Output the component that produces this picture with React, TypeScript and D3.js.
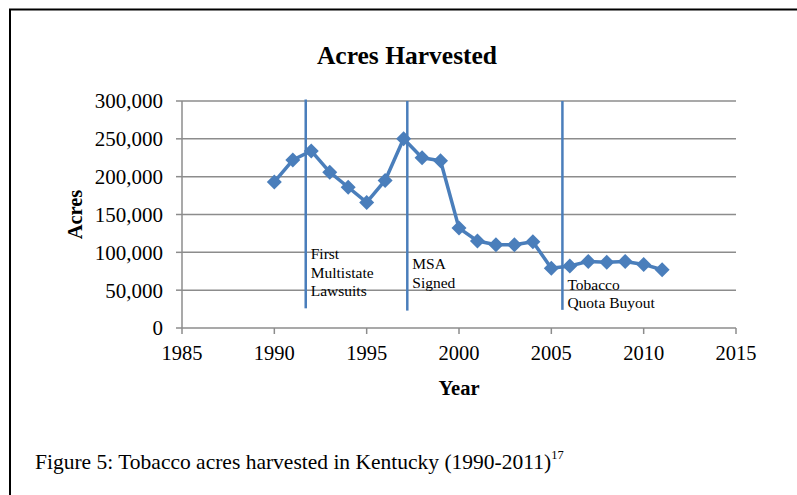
import React from "react";
import * as d3 from "d3";

const years = [1990, 1991, 1992, 1993, 1994, 1995, 1996, 1997, 1998, 1999, 2000, 2001, 2002, 2003, 2004, 2005, 2006, 2007, 2008, 2009, 2010, 2011];
const acres = [193000, 222000, 234000, 206000, 186000, 166000, 195000, 250000, 225000, 221000, 132000, 115000, 110000, 110000, 114000, 79000, 82000, 88000, 87000, 88000, 84000, 77000];
const yTicks = [0, 50000, 100000, 150000, 200000, 250000, 300000];
const xTicks = [1985, 1990, 1995, 2000, 2005, 2010, 2015];
const eventYears = [1991.7, 1997.2, 2005.6];
const eventTops = [302000, 300000, 300000];
const eventBottoms = [26000, 23000, 24000];
const eventLabels = [["First", "Multistate", "Lawsuits"], ["MSA", "Signed"], ["Tobacco", "Quota Buyout"]];
const eventLabelTop = [100000, 87000, 60000];

const W = 797;
const H = 495;
const FONT = "'Liberation Serif', 'Times New Roman', serif";
const BLUE = "#4a7ebb";
const GRID = "#8c8c8c";

export default function App() {
  const x = d3.scaleLinear().domain([1985, 2015]).range([182, 736]);
  const y = d3.scaleLinear().domain([0, 300000]).range([328, 101]);
  const fmt = d3.format(",");
  const line = d3
    .line<number>()
    .x((_, i) => x(years[i]))
    .y((d) => y(d));
  const r = 7.5;
  const diamond = `M0,${-r}L${r},0L0,${r}L${-r},0Z`;

  return (
    <svg
      width={W}
      height={H}
      style={{ position: "absolute", left: 0, top: 0, background: "#fff" }}
      fontFamily={FONT}
    >
      <rect x={0} y={0} width={W} height={H} fill="#fff" />
      <rect x={10} y={9.5} width={W + 10} height={H + 10} fill="none" stroke="#000" strokeWidth={2} />
      <text x={407} y={64} textAnchor="middle" fontSize={25.5} fontWeight="bold">
        Acres Harvested
      </text>
      {yTicks.map((t) => (
        <g key={t}>
          {t > 0 && <line x1={182} x2={736} y1={y(t)} y2={y(t)} stroke={GRID} strokeWidth={1.5} />}
          <line x1={176} x2={182} y1={y(t)} y2={y(t)} stroke={GRID} strokeWidth={1.5} />
          <text x={163} y={y(t)} dy="0.35em" textAnchor="end" fontSize={21}>
            {fmt(t)}
          </text>
        </g>
      ))}
      <line x1={182} x2={182} y1={y(300000)} y2={y(0)} stroke={GRID} strokeWidth={1.5} />
      <line x1={182} x2={736} y1={y(0)} y2={y(0)} stroke={GRID} strokeWidth={1.5} />
      {xTicks.map((t) => (
        <g key={t}>
          <line x1={x(t)} x2={x(t)} y1={y(0)} y2={y(0) + 6} stroke={GRID} strokeWidth={1.5} />
          <text x={x(t)} y={360} textAnchor="middle" fontSize={20.5}>
            {t}
          </text>
        </g>
      ))}
      <text x={459} y={395} textAnchor="middle" fontSize={20.5} fontWeight="bold">
        Year
      </text>
      <text
        transform={`translate(82,${y(150000)}) rotate(-90)`}
        textAnchor="middle"
        fontSize={20.5}
        fontWeight="bold"
      >
        Acres
      </text>
      {eventYears.map((ey, i) => (
        <g key={ey}>
          <line x1={x(ey)} x2={x(ey)} y1={y(eventTops[i])} y2={y(eventBottoms[i])} stroke={BLUE} strokeWidth={2.5} />
          {eventLabels[i].map((s, j) => (
            <text key={s} x={x(ey) + 5} y={y(eventLabelTop[i]) + 7 + j * 18.5} fontSize={15.5}>
              {s}
            </text>
          ))}
        </g>
      ))}
      <path d={line(acres) || ""} fill="none" stroke={BLUE} strokeWidth={3.5} strokeLinejoin="round" />
      {acres.map((v, i) => (
        <path key={i} d={diamond} transform={`translate(${x(years[i])},${y(v)})`} fill={BLUE} />
      ))}
      <text x={35} y={469} fontSize={21.5}>
        Figure 5: Tobacco acres harvested in Kentucky (1990-2011)
        <tspan fontSize={12.5} dy={-10}>
          17
        </tspan>
      </text>
    </svg>
  );
}
